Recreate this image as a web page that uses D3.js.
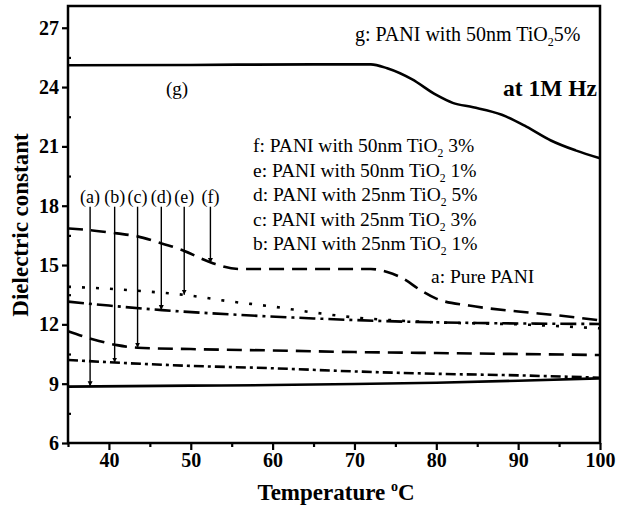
<!DOCTYPE html>
<html><head><meta charset="utf-8">
<script src="https://cdn.jsdelivr.net/npm/d3@7/dist/d3.min.js"></script>
<style>body{margin:0;background:#fff}svg{display:block}text{font-family:"Liberation Serif","Times New Roman",serif}</style>
</head><body><svg id="c" width="618" height="508"></svg>
<script>
// ---- data ----
const tempsA = [35, 50, 60, 70, 80, 90, 100];
const valsA  = [8.85, 8.9, 8.93, 8.98, 9.05, 9.15, 9.27];
const tempsB = [35, 40.7, 50, 60, 70, 80, 90, 100];
const valsB  = [10.2, 10.07, 9.9, 9.78, 9.62, 9.5, 9.42, 9.3];
const tempsC = [35, 38, 41, 43.5, 50, 60, 70, 80, 90, 100];
const valsC  = [11.65, 11.25, 10.95, 10.82, 10.75, 10.68, 10.6, 10.55, 10.5, 10.45];
const tempsD = [35, 40, 46.5, 55, 65, 75, 85, 100];
const valsD  = [13.15, 12.95, 12.72, 12.5, 12.3, 12.15, 12.07, 12.02];
const tempsE = [35, 40, 45, 49, 55, 60, 65, 70, 75, 80, 90, 100];
const valsE  = [13.9, 13.8, 13.65, 13.5, 13.15, 12.9, 12.6, 12.35, 12.2, 12.1, 12.0, 11.8];
const tempsF = [35, 38, 41, 43.5, 46, 49, 52.3, 53, 56, 65, 72, 74, 76, 78, 80, 84, 90, 95, 100];
const valsF  = [16.85, 16.75, 16.6, 16.45, 16.15, 15.75, 15.15, 15.05, 14.8, 14.8, 14.8, 14.65, 14.3, 13.75, 13.3, 12.95, 12.65, 12.45, 12.2];
const tempsG = [35, 50, 65, 72, 74, 77, 80, 82, 84.5, 88, 91, 94, 97, 100];
const valsG  = [25.1, 25.12, 25.15, 25.15, 24.95, 24.4, 23.6, 23.2, 22.98, 22.6, 22.0, 21.3, 20.8, 20.4];

const arrowLabels = ["(a)", "(b)", "(c)", "(d)", "(e)", "(f)"];
const arrowTemps  = [37.7, 40.7, 43.5, 46.4, 49.2, 52.4];
const arrowEnds   = [8.87, 10.07, 10.82, 12.72, 13.5, 15.1];
const arrowTop = 17.95;

const legendLetters = ["f", "e", "d", "c", "b"];
const legendSizes   = ["50nm", "50nm", "25nm", "25nm", "25nm"];
const legendPcts    = ["3%", "1%", "5%", "3%", "1%"];

const xTicks = [40, 50, 60, 70, 80, 90, 100];
const yTicks = [6, 9, 12, 15, 18, 21, 24, 27];

// ---- chart ----
const svg = d3.select("#c");
const x = d3.scaleLinear().domain([35, 100]).range([68, 600]);
const y = d3.scaleLinear().domain([6, 28.1]).range([443, 6]);

const series = [
  {t: tempsA, v: valsA, dash: null},
  {t: tempsB, v: valsB, dash: "10,4,3,4"},
  {t: tempsC, v: valsC, dash: "15,8"},
  {t: tempsD, v: valsD, dash: "16,5,3,5"},
  {t: tempsE, v: valsE, dash: "3,11"},
  {t: tempsF, v: valsF, dash: "15,8"},
  {t: tempsG, v: valsG, dash: null}
];
const line = d3.line().x(d => x(d[0])).y(d => y(d[1])).curve(d3.curveMonotoneX);
series.forEach(s => {
  svg.append("path").datum(s.t.map((t, i) => [t, s.v[i]]))
    .attr("d", line).attr("fill", "none").attr("stroke", "#000")
    .attr("stroke-width", 2.6).attr("stroke-dasharray", s.dash);
});

// frame
svg.append("rect").attr("x", 68).attr("y", 6).attr("width", 532).attr("height", 437)
  .attr("fill", "none").attr("stroke", "#000").attr("stroke-width", 2.5);

// axes
const xAx = svg.append("g").attr("transform", "translate(0,443)")
  .call(d3.axisBottom(x).tickValues(xTicks).tickSize(7).tickPadding(3).tickFormat(d3.format("d")));
const xMin = svg.append("g").attr("transform", "translate(0,443)")
  .call(d3.axisBottom(x).tickValues([35, 45, 55, 65, 75, 85, 95]).tickSize(4).tickFormat(""));
const yAx = svg.append("g").attr("transform", "translate(68,0)")
  .call(d3.axisLeft(y).tickValues(yTicks).tickSize(6).tickPadding(3).tickFormat(d3.format("d")));
const yMin = svg.append("g").attr("transform", "translate(68,0)")
  .call(d3.axisRight(y).tickValues([7.5, 10.5, 13.5, 16.5, 19.5, 22.5, 25.5]).tickSize(3).tickFormat(""));
[xAx, xMin, yAx, yMin].forEach(g => {
  g.select(".domain").remove();
  g.selectAll("line").attr("stroke", "#000").attr("stroke-width", 2.2);
  g.selectAll("text").attr("fill", "#000").attr("font-size", 20).attr("font-weight", "bold")
    .style("font-family", '"Liberation Serif",serif');
});

// arrows
svg.append("defs").append("marker").attr("id", "ah").attr("viewBox", "0 0 10 10")
  .attr("refX", 10).attr("refY", 5).attr("markerWidth", 5).attr("markerHeight", 8)
  .attr("markerUnits", "userSpaceOnUse").attr("orient", "auto")
  .append("path").attr("d", "M0,0 L10,5 L0,10 z").attr("fill", "#000");
arrowTemps.forEach((t, i) => {
  svg.append("line").attr("x1", x(t)).attr("x2", x(t)).attr("y1", y(arrowTop)).attr("y2", y(arrowEnds[i]))
    .attr("stroke", "#000").attr("stroke-width", 1.4).attr("marker-end", "url(#ah)");
  svg.append("text").attr("x", x(t)).attr("y", y(arrowTop) - 4).attr("text-anchor", "middle")
    .attr("font-size", 18).text(arrowLabels[i]);
});

// legend texts
function legendText(xp, yp, prefix, sub, suffix, size) {
  const t = svg.append("text").attr("x", xp).attr("y", yp).attr("font-size", size);
  t.append("tspan").text(prefix);
  t.append("tspan").attr("dy", 5).attr("font-size", size * 0.6).text(sub);
  t.append("tspan").attr("dy", -5).text(suffix);
}
legendLetters.forEach((l, i) => {
  legendText(253, 152 + i * 24.5, `${l}: PANI with ${legendSizes[i]} TiO`, "2", " " + legendPcts[i], 19.5);
});
legendText(355, 41, "g: PANI with 50nm TiO", "2", "5%", 20);
svg.append("text").attr("x", 431).attr("y", 283).attr("font-size", 19.5).text("a: Pure PANI");
svg.append("text").attr("x", 177).attr("y", 95).attr("text-anchor", "middle").attr("font-size", 19).text("(g)");
svg.append("text").attr("x", 597).attr("y", 96).attr("text-anchor", "end").attr("font-size", 23.5)
  .attr("font-weight", "bold").text("at 1M Hz");

// axis titles
svg.append("text").attr("transform", "translate(28,225) rotate(-90)").attr("text-anchor", "middle")
  .attr("font-size", 23).attr("font-weight", "bold").text("Dielectric constant");
const xt = svg.append("text").attr("x", 336).attr("y", 500).attr("text-anchor", "middle")
  .attr("font-size", 23).attr("font-weight", "bold");
xt.append("tspan").text("Temperature ");
xt.append("tspan").attr("dy", -9).attr("font-size", 14).text("o");
xt.append("tspan").attr("dy", 9).text("C");
</script></body></html>
